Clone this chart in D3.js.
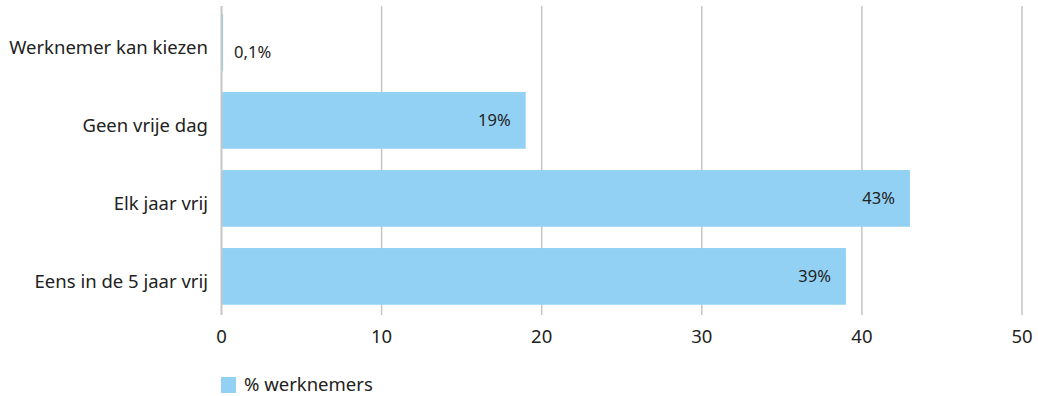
<!DOCTYPE html>
<html><head><meta charset="utf-8">
<script src="https://cdn.jsdelivr.net/npm/d3@7"></script>
<style>body{margin:0;background:#fff}svg{display:block}text{font-family:"Noto Sans",sans-serif;fill:#222}</style>
</head><body><svg id="c" width="1038" height="396"></svg>
<script>
const categories = ["Werknemer kan kiezen","Geen vrije dag","Elk jaar vrij","Eens in de 5 jaar vrij"];
const values = [0.1, 19, 43, 39];
const valueLabels = ["0,1%","19%","43%","39%"];
const xTicks = [0,10,20,30,40,50];
const seriesName = "% werknemers";

const svg = d3.select("#c");
const x = d3.scaleLinear().domain([0,50]).range([221.5,1022]);
const y = d3.scaleBand().domain(categories).range([3.4,315.4]).paddingInner(0.273).paddingOuter(0.1365);
const barColor = "#92d1f3";

svg.append("g").selectAll("line").data(xTicks.filter(d=>d!==0)).join("line")
  .attr("x1",d=>x(d)).attr("x2",d=>x(d)).attr("y1",6).attr("y2",315)
  .attr("stroke","#c6c6c6").attr("stroke-width",1.5);

svg.append("g").selectAll("rect").data(values).join("rect")
  .attr("x",x(0)).attr("y",(d,i)=>y(categories[i]))
  .attr("width",d=>x(d)-x(0)).attr("height",y.bandwidth()).attr("fill",barColor);

svg.append("line").attr("x1",x(0)).attr("x2",x(0)).attr("y1",6).attr("y2",315)
  .attr("stroke","#c6c6c6").attr("stroke-width",2);

svg.append("g").selectAll("text").data(values).join("text")
  .attr("x",(d,i)=> d<5 ? x(d)+11 : x(d)-15)
  .attr("y",(d,i)=>y(categories[i])+y.bandwidth()/2 + (d<5?10:0))
  .attr("dy","0.35em").attr("text-anchor",d=>d<5?"start":"end")
  .attr("font-size",16.5).text((d,i)=>valueLabels[i]);

svg.append("g").selectAll("text").data(categories).join("text")
  .attr("x",208).attr("y",d=>y(d)+y.bandwidth()/2+12)
  .attr("text-anchor","end").attr("font-size",18.5).text(d=>d);

svg.append("g").selectAll("text").data(xTicks).join("text")
  .attr("x",d=>x(d)).attr("y",337).attr("dy","0.35em")
  .attr("text-anchor","middle").attr("font-size",18.5).text(d=>d);

svg.append("rect").attr("x",221).attr("y",377).attr("width",15).attr("height",16).attr("fill",barColor);
svg.append("text").attr("x",244).attr("y",391).attr("font-size",18.5).text(seriesName);
</script></body></html>
